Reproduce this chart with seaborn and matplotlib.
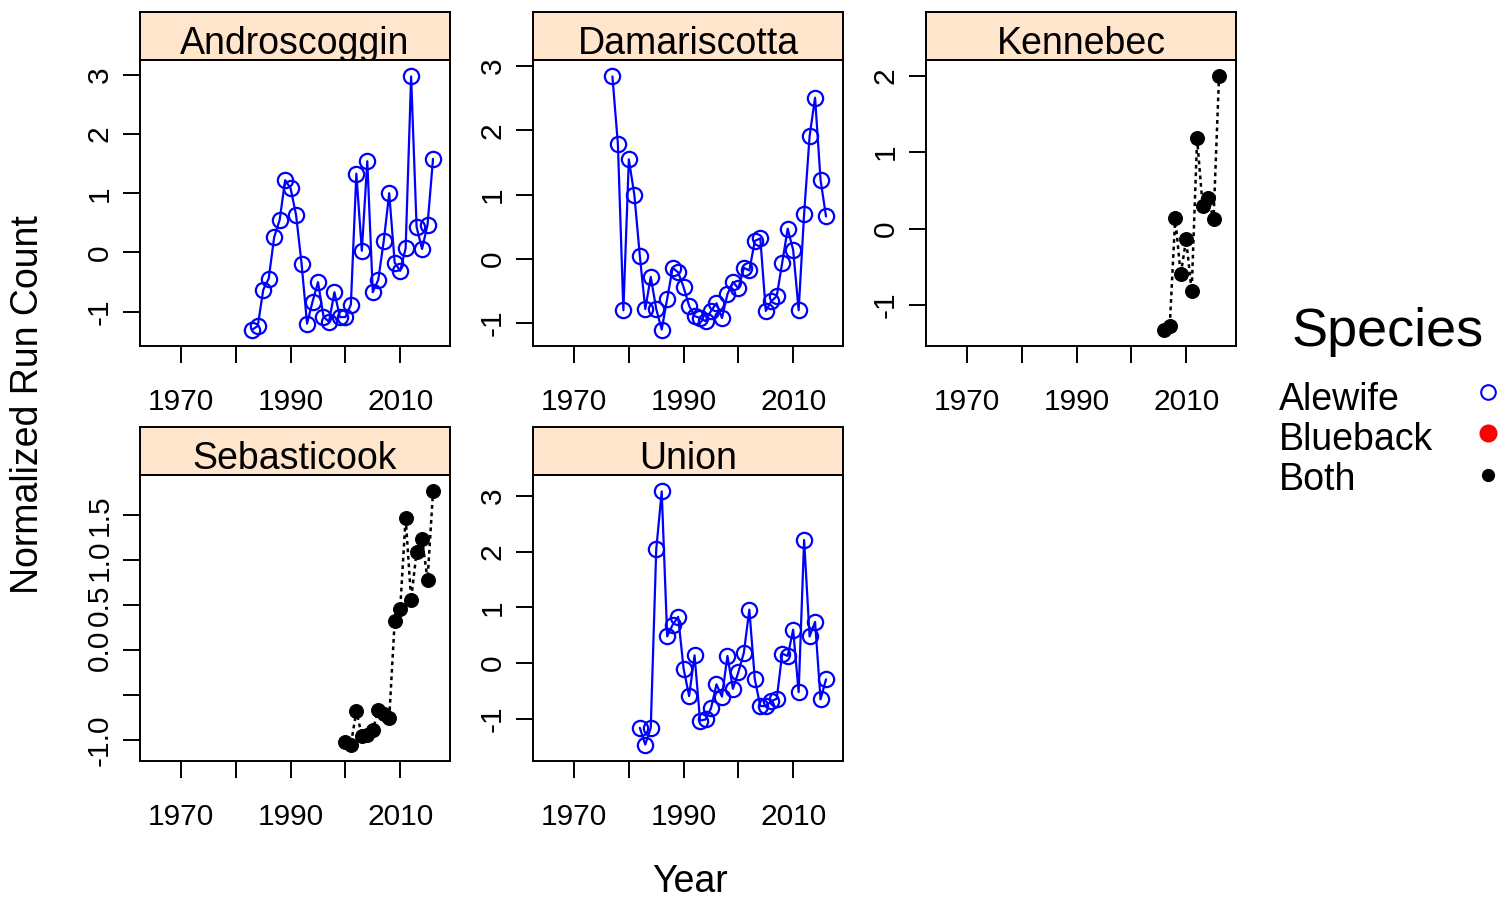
import numpy as np
import pandas as pd
import matplotlib
matplotlib.use("Agg")
import matplotlib.pyplot as plt
import seaborn as sns
from matplotlib.lines import Line2D

# ============================================
# DATA (normalized run counts)
# ============================================

rivers = ["Androscoggin", "Damariscotta", "Kennebec", "Sebasticook", "Union"]
river_species = ["Alewife", "Alewife", "Both", "Both", "Alewife"]

andro_years = list(range(1983, 2017))
andro_runs = [-1.30, -1.24, -0.63, -0.44, 0.26, 0.55, 1.22, 1.08, 0.63, -0.19,
              -1.20, -0.83, -0.50, -1.08, -1.17, -0.67, -1.09, -1.09, -0.88, 1.33,
              0.03, 1.54, -0.67, -0.46, 0.19, 1.00, -0.17, -0.31, 0.07, 2.97,
              0.43, 0.06, 0.47, 1.58]

dama_years = list(range(1977, 2017))
dama_runs = [2.84, 1.79, -0.80, 1.55, 1.00, 0.05, -0.78, -0.28, -0.78, -1.10,
             -0.62, -0.14, -0.21, -0.44, -0.73, -0.89, -0.92, -0.97, -0.81, -0.69,
             -0.92, -0.55, -0.36, -0.46, -0.14, -0.18, 0.28, 0.32, -0.81, -0.66,
             -0.58, -0.06, 0.47, 0.14, -0.80, 0.70, 1.91, 2.51, 1.23, 0.66]

kenn_years = list(range(2006, 2017))
kenn_runs = [-1.32, -1.28, 0.14, -0.60, -0.14, -0.82, 1.18, 0.30, 0.40, 0.12, 1.99]

sebas_years = list(range(2000, 2017))
sebas_runs = [-1.02, -1.05, -0.68, -0.95, -0.94, -0.89, -0.67, -0.71, -0.76, 0.32,
              0.45, 1.47, 0.56, 1.09, 1.23, 0.78, 1.76]

union_years = list(range(1982, 2017))
union_runs = [-1.16, -1.46, -1.16, 2.04, 3.08, 0.48, 0.69, 0.83, -0.10, -0.59,
              0.14, -1.03, -1.01, -0.81, -0.38, -0.60, 0.13, -0.46, -0.16, 0.19,
              0.96, -0.29, -0.77, -0.77, -0.68, -0.64, 0.17, 0.13, 0.60, -0.52,
              2.21, 0.48, 0.74, -0.65, -0.29]

# y tick labels per panel (free y scales); blank = label dropped
ytick_labels = {
    "Androscoggin": ["-1", "0", "1", "2", "3"],
    "Damariscotta": ["-1", "0", "1", "2", "3"],
    "Kennebec": ["-1", "0", "1", "2"],
    "Sebasticook": ["-1.0", "-0.5", "0.0", "0.5", "1.0", "1.5"],
    "Union": ["-1", "0", "1", "2", "3"],
}
hidden_labels = ["-0.5"]

xtick_years = [1970, 1980, 1990, 2000, 2010]
xtick_labels = ["1970", "", "1990", "", "2010"]

legend_labels = ["Alewife", "Blueback", "Both"]

years_all = [andro_years, dama_years, kenn_years, sebas_years, union_years]
runs_all = [andro_runs, dama_runs, kenn_runs, sebas_runs, union_runs]

df = pd.concat([
    pd.DataFrame({"River": r, "Species": s, "Year": y, "Run": v})
    for r, s, y, v in zip(rivers, river_species, years_all, runs_all)
], ignore_index=True)

# ============================================
# STYLE
# ============================================

sns.set_style("ticks")
plt.rcParams['font.family'] = ['Liberation Sans', 'DejaVu Sans']
plt.rcParams['axes.edgecolor'] = 'black'
plt.rcParams['text.color'] = 'black'
plt.rcParams['xtick.color'] = 'black'
plt.rcParams['ytick.color'] = 'black'
plt.rcParams['axes.linewidth'] = 1.4

W, H = 1510, 902
fig = plt.figure(figsize=(W / 100, H / 100), dpi=100)
fig.patch.set_facecolor("white")


def frac(left, top, w, h):
    # pixel box (from top-left) -> figure fraction box
    return [left / W, 1 - (top + h) / H, w / W, h / H]


col_left = [140, 533, 926]
row_top = [60, 475]
panel_w, panel_h, strip_h = 310, 286, 48

# ============================================
# PANELS
# ============================================

for i, river in enumerate(rivers):
    left = col_left[i % 3]
    top = row_top[i // 3]
    sub = df[df["River"] == river]
    sp = sub["Species"].iloc[0]

    # strip
    sax = fig.add_axes(frac(left, top - strip_h, panel_w, strip_h))
    sax.set_facecolor("#ffe5cc")
    sax.set_xticks([])
    sax.set_yticks([])
    sax.text(0.5, 0.13, river, transform=sax.transAxes, ha="center",
             va="baseline", fontsize=27, clip_on=True)

    ax = fig.add_axes(frac(left, top, panel_w, panel_h))
    if sp == "Alewife":
        sns.lineplot(data=sub, x="Year", y="Run", ax=ax, color="blue", lw=1.6,
                     marker="o", markersize=11, markerfacecolor="none",
                     markeredgecolor="blue", markeredgewidth=1.6, errorbar=None)
    else:
        sns.lineplot(data=sub, x="Year", y="Run", ax=ax, color="black", lw=1.8,
                     linestyle=(0, (1.5, 1.5)), marker="o", markersize=10,
                     markerfacecolor="black", markeredgecolor="black",
                     errorbar=None)

    lo, hi = sub["Run"].min(), sub["Run"].max()
    pad = 0.065 * (hi - lo)
    ax.set_ylim(lo - pad, hi + pad)
    ax.set_xlim(1962.5, 2019.1)

    ax.set_xticks(xtick_years)
    ax.set_xticklabels(xtick_labels)
    labs = ytick_labels[river]
    ax.set_yticks([float(t) for t in labs])
    ax.set_yticklabels([("" if t in hidden_labels else t) for t in labs],
                       rotation=90, va="center", ha="right")

    ax.tick_params(axis="x", direction="out", length=12, width=1.4,
                   labelsize=21.5, pad=18)
    ax.tick_params(axis="y", direction="out", length=12, width=1.4,
                   labelsize=21.5, pad=7)
    ax.set_xlabel("")
    ax.set_ylabel("")
    for sp_name in ax.spines:
        ax.spines[sp_name].set_visible(True)

# axis titles
fig.text(28 / W, 1 - 405 / H, "Normalized Run Count", rotation=90,
         ha="center", va="center", fontsize=27)
fig.text(690 / W, 1 - 882 / H, "Year", ha="center", va="center", fontsize=27)

# ============================================
# LEGEND (drawn by hand: text left, key right)
# ============================================

fig.text(1388 / W, 1 - 332 / H, "Species", ha="center", va="center", fontsize=39)
label_y = [400, 440, 480]
key_y = [392, 433, 475]
key_style = [
    dict(marker="o", ms=10.5, mfc="none", mec="blue", mew=1.5),
    dict(marker="o", ms=13, mfc="red", mec="red", mew=0),
    dict(marker="o", ms=9.5, mfc="black", mec="black", mew=0),
]
for lab, ly, ky, st in zip(legend_labels, label_y, key_y, key_style):
    fig.text(1279 / W, 1 - ly / H, lab, ha="left", va="center", fontsize=27)
    fig.add_artist(Line2D([1488 / W], [1 - ky / H], transform=fig.transFigure,
                          linestyle="none", **st))

plt.savefig("out.png", dpi=100)
